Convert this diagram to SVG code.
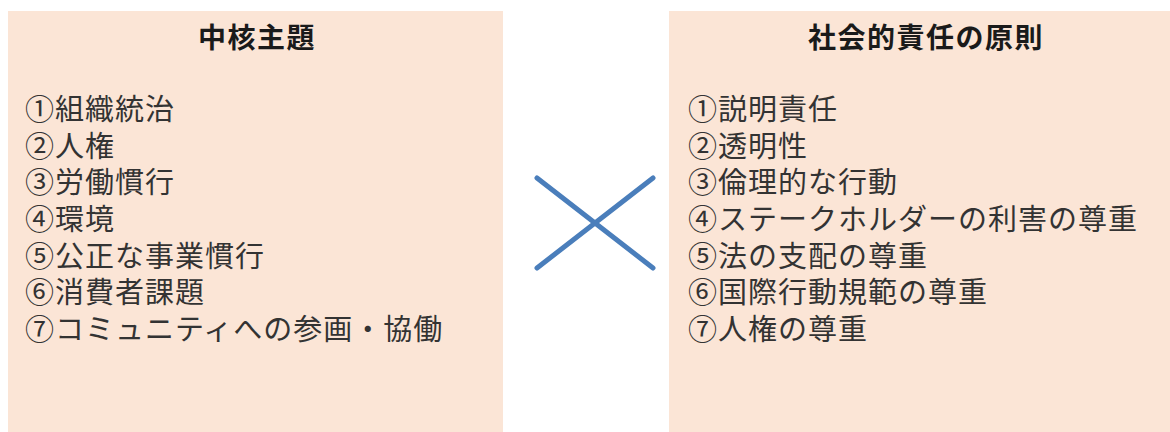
<svg xmlns="http://www.w3.org/2000/svg" width="1170" height="432" viewBox="0 0 1170 432">
<style>
.box{fill:#fbe5d6;}
.title{font-family:"Noto Sans CJK JP","Noto Sans CJK SC",sans-serif;font-size:28px;font-weight:bold;fill:#1a1a1a;text-anchor:middle;letter-spacing:1.5px;}
.item{font-family:"Noto Sans CJK JP","Noto Sans CJK SC",sans-serif;font-size:29px;fill:#333333;letter-spacing:1px;}
.cross{stroke:#4a7ebb;stroke-width:5;stroke-linecap:round;fill:none;}
</style>
<rect width="1170" height="432" fill="#ffffff"/>
<g id="core-subjects">
<rect class="box" x="8" y="11" width="495" height="421"/>
<text class="title" x="257" y="48">中核主題</text>
<text class="item" x="25" y="120"><tspan x="25" y="120">①組織統治</tspan><tspan x="25" y="156.7">②人権</tspan><tspan x="25" y="193.3">③労働慣行</tspan><tspan x="25" y="230">④環境</tspan><tspan x="25" y="266.7">⑤公正な事業慣行</tspan><tspan x="25" y="303.3">⑥消費者課題</tspan><tspan x="25" y="340">⑦コミュニティへの参画・協働</tspan></text>
</g>
<g id="principles">
<rect class="box" x="669" y="11" width="501" height="421"/>
<text class="title" x="926" y="48">社会的責任の原則</text>
<text class="item" x="688" y="120"><tspan x="688" y="120">①説明責任</tspan><tspan x="688" y="156.7">②透明性</tspan><tspan x="688" y="193.3">③倫理的な行動</tspan><tspan x="688" y="230">④ステークホルダーの利害の尊重</tspan><tspan x="688" y="266.7">⑤法の支配の尊重</tspan><tspan x="688" y="303.3">⑥国際行動規範の尊重</tspan><tspan x="688" y="340">⑦人権の尊重</tspan></text>
</g>
<g id="connectors">
<line class="cross" x1="537" y1="178" x2="653" y2="268"/>
<line class="cross" x1="653" y1="178" x2="537" y2="268"/>
</g>
</svg>
